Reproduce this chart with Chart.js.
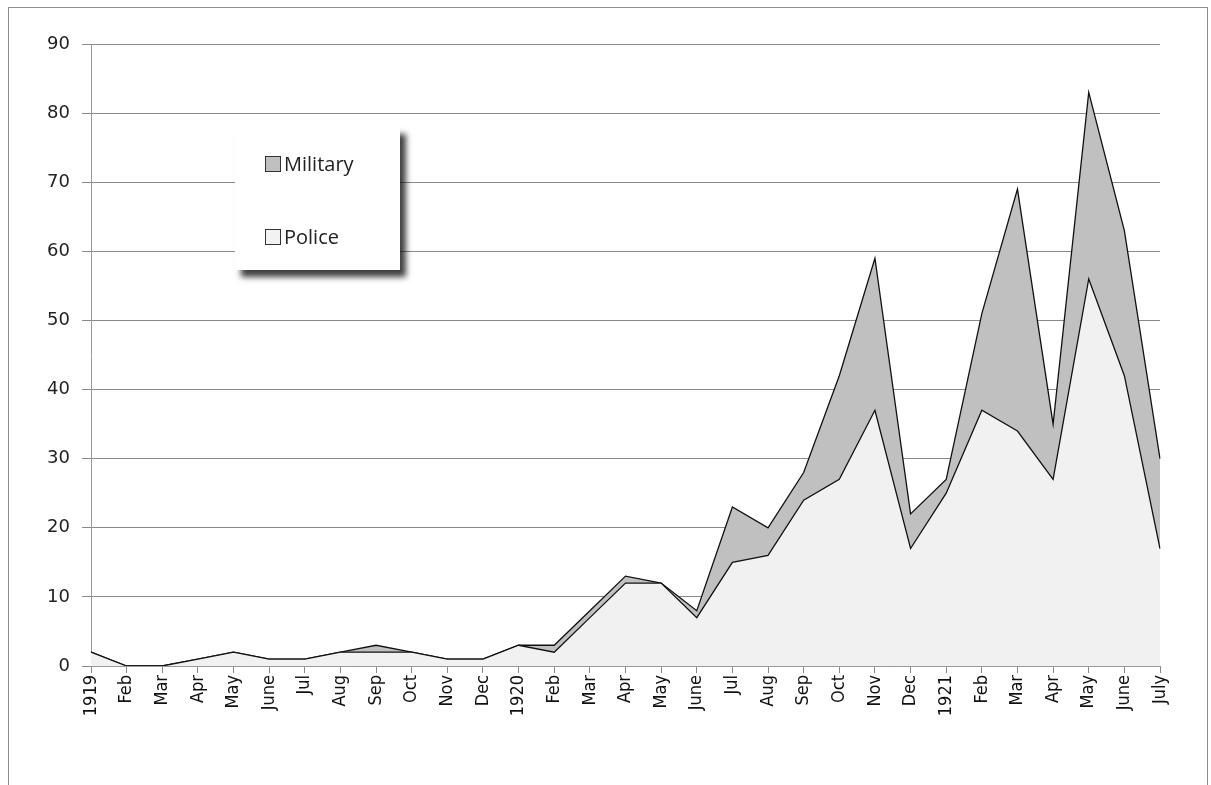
<!DOCTYPE html>
<html lang="en">
<head>
<meta charset="utf-8">
<title>Police and military casualties 1919-1921</title>
<script src="https://cdn.jsdelivr.net/npm/chart.js@4.4.0/dist/chart.umd.min.js"></script>
<style>
  html, body { margin: 0; padding: 0; background: #fff; overflow: hidden; }
  #frame { position: absolute; left: 8px; top: 7px; width: 1200px; height: 800px; border: 1px solid #8c8c8c; box-sizing: border-box; }
  #wrap { position: absolute; left: 0; top: 0; width: 1211px; height: 785px; }
  #legend { position: absolute; left: 235px; top: 127px; width: 165px; height: 143px; background: #fff;
            box-shadow: 6px 7px 6px rgba(0,0,0,0.75); font-family: "Open Sans", "Liberation Sans", sans-serif; font-size: 20px; color: #222; }
  .item { position: absolute; left: 30px; height: 24px; line-height: 24px; }
  .sw { display: inline-block; width: 14px; height: 14px; border: 1px solid #333; vertical-align: -1px; margin-right: 3px; }
</style>
</head>
<body>
<div id="frame"></div>
<div id="wrap"><canvas id="mycanvas" width="1211" height="785"></canvas></div>
<div id="legend">
  <div class="item" style="top:25px"><span class="sw" style="background:#c0c0c0"></span>Military</div>
  <div class="item" style="top:98px"><span class="sw" style="background:#f2f2f2"></span>Police</div>
</div>

<script>
var months = ["1919","Feb","Mar","Apr","May","June","Jul","Aug","Sep","Oct","Nov","Dec",
              "1920","Feb","Mar","Apr","May","June","Jul","Aug","Sep","Oct","Nov","Dec",
              "1921","Feb","Mar","Apr","May","June","July"];
var police   = [2,0,0,1,2,1,1,2,2,2,1,1, 3,2,7,12,12,7,15,16,24,27,37,17, 25,37,34,27,56,42,17];
var military = [0,0,0,0,0,0,0,0,1,0,0,0, 0,1,1,1,0,1,8,4,4,15,22,5, 2,14,35,8,27,21,13];
var yTicks = [0,10,20,30,40,50,60,70,80,90];

var ctx = document.getElementById("mycanvas");
var chart = new Chart(ctx, {
  type: 'line',
  data: {
    labels: months,
    datasets: [
      {
        label: 'Police',
        data: police,
        backgroundColor: '#f1f1f1',
        borderColor: '#111',
        borderWidth: 1.3,
        pointRadius: 0,
        tension: 0,
        fill: 'origin'
      },
      {
        label: 'Military',
        data: military,
        backgroundColor: '#c0c0c0',
        borderColor: '#111',
        borderWidth: 1.3,
        pointRadius: 0,
        tension: 0,
        fill: '-1'
      }
    ]
  },
  options: {
    responsive: false,
    animation: false,
    layout: { padding: { left: 0, top: 44, right: 51, bottom: 0 } },
    plugins: { legend: { display: false }, tooltip: { enabled: false } },
    scales: {
      x: {
        offset: false,
        grid: { drawOnChartArea: false, drawTicks: true, tickLength: 7, color: '#888' },
        border: { color: '#999' },
        ticks: {
          autoSkip: false, maxRotation: 90, minRotation: 90, padding: 2,
          color: '#111',
          font: { family: "'Liberation Sans Narrow', 'DejaVu Sans Condensed', sans-serif", size: 18 }
        },
        afterFit: function(scale) { scale.height = 119; }
      },
      y: {
        stacked: true,
        min: 0, max: 90,
        afterBuildTicks: function(scale) { scale.ticks = yTicks.map(function(v) { return { value: v }; }); },
        grid: { color: '#8a8a8a', tickLength: 9 },
        border: { color: '#999' },
        ticks: {
          color: '#222', padding: 12,
          font: { family: "'DejaVu Sans', sans-serif", size: 18 }
        },
        afterFit: function(scale) { scale.width = 91; }
      }
    }
  }
});
</script>
</body>
</html>
